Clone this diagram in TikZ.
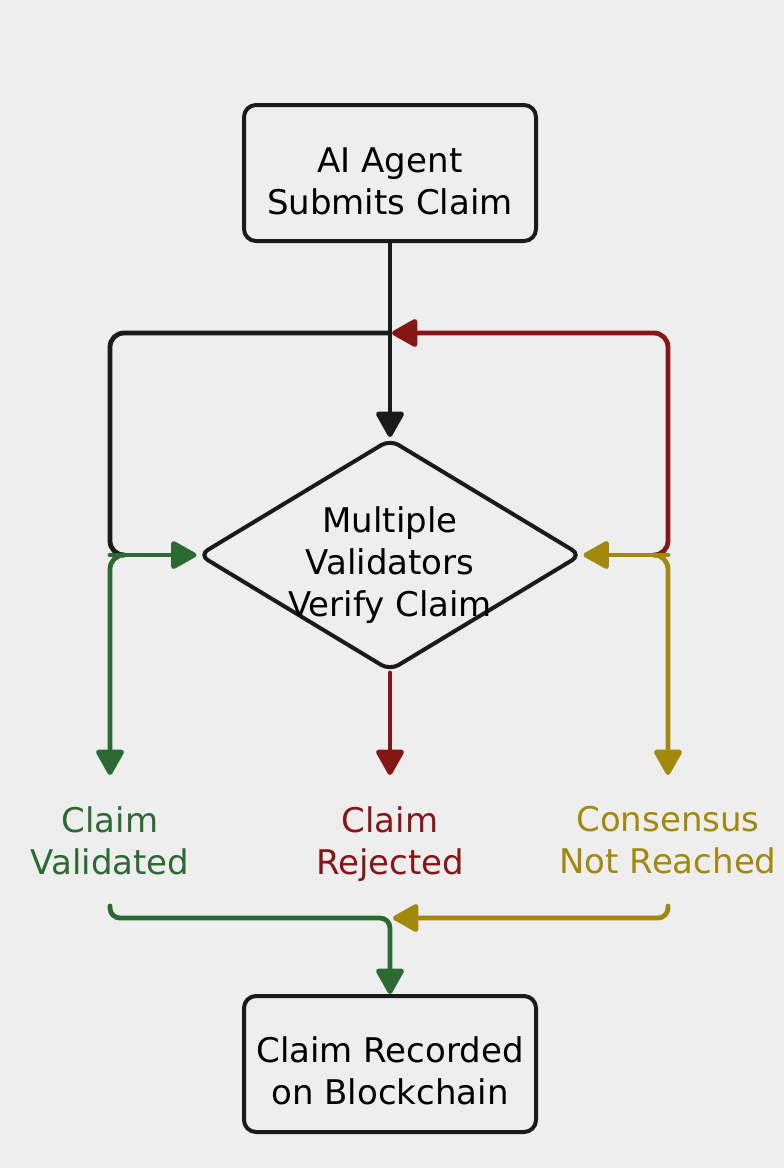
\documentclass[tikz,border=0pt]{standalone}
\usepackage{fontspec}
\setmainfont{DejaVu Sans}
\usetikzlibrary{arrows.meta,shapes.geometric,positioning}
\definecolor{bgcol}{HTML}{EEEEEE}
\definecolor{ink}{HTML}{1A1A1A}
\definecolor{vgreen}{HTML}{2D6932}
\definecolor{vred}{HTML}{861616}
\definecolor{vyellow}{HTML}{A2890C}
\newcommand\flowfont{\fontsize{34}{42}\selectfont}
\begin{document}
\begin{tikzpicture}[x=1pt,y=-1pt,
        box/.style={draw=ink,line width=4pt,rounded corners=12pt,minimum width=292pt,minimum height=136pt,inner sep=0pt},
        decision/.style={diamond,draw=ink,line width=4pt,rounded corners=10pt,minimum width=383pt,minimum height=232pt,inner sep=0pt},
        outcome/.style={align=center,font=\flowfont,inner sep=0pt},
        wire/.style={line width=4.8pt,line cap=round},
        flow/.style={wire,-{Triangle[length=28pt,width=30pt,round]}}]
    \fill[bgcol] (0,0) rectangle (784,1168);
    \node[box,label={[outcome,yshift=-8pt]center:AI Agent\\Submits Claim}] (claim) at (390,173) {};
    \node[decision,label={[outcome,yshift=-10pt]center:Multiple\\Validators\\Verify Claim}] (verify) at (390,555) {};
    \node[box,label={[outcome,yshift=-7pt]center:Claim Recorded\\on Blockchain}] (record) at (390,1064) {};
    \coordinate (jtop) at (390,333);
    \coordinate (jleft) at (110,555);
    \coordinate (jright) at (668,555);
    \coordinate (vtip) at (110,775);
    \coordinate (rtip) at (390,775);
    \coordinate (ntip) at (668,775);
    \coordinate (vhook) at (110,906);
    \coordinate (nhook) at (668,906);
    \coordinate (jbot) at (390,918);
    \node[outcome,text=vgreen,below=31pt of vtip] (valid) {Claim\\Validated};
    \node[outcome,text=vred,below=31pt of rtip] (reject) {Claim\\Rejected};
    \node[outcome,text=vyellow,below=31pt of ntip] (nocons) {Consensus\\Not Reached};
    \draw[wire,ink,rounded corners=14pt] (jtop) -| (jleft) -- ++(14,0);
    \draw[flow,ink] (claim.south) -- (verify.north);
    \draw[flow,vred,rounded corners=14pt,shorten >=2pt] ([xshift=-14pt]jright) -| (jright |- jtop) -- (jtop);
    \draw[flow,vgreen] (jleft) -- (verify.west);
    \draw[flow,vgreen,rounded corners=14pt] ([xshift=14pt]jleft) -| (vtip);
    \draw[flow,vyellow] (jright) -- (verify.east);
    \draw[flow,vyellow,rounded corners=14pt] ([xshift=-14pt]jright) -| (ntip);
    \draw[flow,vred] (verify.south) -- (rtip);
    \draw[flow,vgreen,rounded corners=10pt] (vhook) |- (jbot) -- (record.north);
    \draw[flow,vyellow,rounded corners=10pt,shorten >=3pt] (nhook) |- (jbot);
\end{tikzpicture}
\end{document}
